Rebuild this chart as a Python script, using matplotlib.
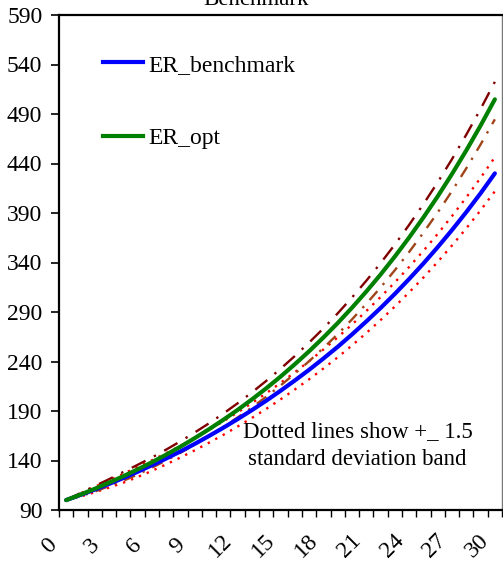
import matplotlib
matplotlib.use("Agg")
import matplotlib.pyplot as plt
from matplotlib.transforms import ScaledTranslation
from matplotlib.lines import Line2D

plt.rcParams['font.family'] = ['Liberation Serif', 'DejaVu Serif']

periods = list(range(31))
er_benchmark = [100, 105.2, 110.6, 116.3, 122.3, 128.6, 135.2, 142.0, 149.2, 156.8,
                164.8, 173.1, 181.8, 190.9, 200.4, 210.4, 220.8, 231.6, 243.0, 254.8,
                267.3, 280.4, 294.0, 308.3, 323.3, 339.0, 355.5, 372.8, 390.9, 409.9, 430.0]
er_opt = [100, 105.5, 111.4, 117.6, 124.1, 131.0, 138.2, 145.9, 154.0, 162.6,
          171.6, 181.1, 191.1, 201.7, 212.9, 224.7, 237.2, 250.3, 264.2, 278.8,
          294.3, 310.6, 327.8, 346.0, 365.2, 385.5, 406.8, 429.4, 453.2, 478.3, 504.8]
opt_upper = [100, 107.1, 114.2, 121.1, 128.4, 135.6, 143.0, 151.0, 159.4, 168.3,
             177.6, 187.4, 197.8, 208.8, 220.4, 232.6, 245.5, 259.1, 273.4, 288.6,
             304.6, 321.5, 339.3, 358.1, 378.0, 399.0, 421.0, 444.4, 469.1, 495.0, 522.5]
opt_lower = [100, 103.9, 108.6, 114.1, 119.5, 125.8, 132.7, 140.1, 147.8, 156.1,
             164.7, 173.9, 183.5, 193.6, 204.4, 215.7, 227.7, 240.3, 253.6, 267.6,
             282.5, 298.2, 314.7, 332.2, 350.6, 370.1, 390.5, 412.2, 435.1, 459.2, 484.6]
bench_upper = [100, 106.8, 113.4, 119.8, 126.6, 133.5, 140.2, 147.4, 154.8, 162.7,
               171.0, 179.6, 188.6, 198.0, 207.9, 218.3, 229.1, 240.3, 252.1, 264.4,
               277.3, 290.9, 305.1, 319.9, 335.5, 351.8, 368.9, 386.9, 405.7, 425.5, 446.3]
bench_lower = [100, 103.6, 107.9, 112.6, 117.6, 123.3, 129.5, 136.1, 143.0, 150.3,
               158.0, 165.9, 174.3, 183.0, 192.1, 201.7, 211.7, 222.0, 232.9, 244.2,
               256.2, 268.7, 281.8, 295.5, 309.8, 324.8, 340.6, 357.2, 374.5, 392.7, 411.9]
y_ticks = [90, 140, 190, 240, 290, 340, 390, 440, 490, 540, 590]
x_labels = [0, 3, 6, 9, 12, 15, 18, 21, 24, 27, 30]

fig = plt.figure(figsize=(5.03, 5.61), dpi=100)
ax = fig.add_axes([59/503, 1-510/561, 443/503, 495/561])

xs = [p + 0.5 for p in periods]
ax.plot(xs, bench_lower, color='#FF0000', lw=1.7, dashes=(1, 2.6))
ax.plot(xs, bench_upper, color='#FF0000', lw=1.7, dashes=(1, 2.6))
ax.plot(xs, opt_lower, color='#A0441A', lw=1.7, dashes=(5, 3.5, 1, 3.5))
ax.plot(xs, opt_upper, color='#800000', lw=1.7, dashes=(6.5, 4, 1, 4))
ax.plot(xs, er_benchmark, color='#0000FF', lw=3.0, solid_capstyle='round')
ax.plot(xs, er_opt, color='#008000', lw=3.0, solid_capstyle='round')

ax.set_xlim(0, 31)
ax.set_ylim(90, 590)
ax.set_yticks(y_ticks)
ax.set_yticklabels([str(v) for v in y_ticks])
ax.set_xticks(x_labels)
ax.set_xticklabels([str(v) for v in x_labels], rotation=45, ha='center', va='center',
                   rotation_mode='anchor')
ax.set_xticks(range(0, 32), minor=True)
ax.tick_params(axis='y', direction='out', length=6, width=1.2, pad=6, labelsize=17)
ax.tick_params(axis='x', which='both', direction='out', length=5, width=1.0, pad=21, labelsize=17)
off = ScaledTranslation(-0.10, 0, fig.dpi_scale_trans)
for lab in ax.get_xticklabels():
    lab.set_transform(lab.get_transform() + off)

ax.spines['left'].set_linewidth(1.6)
ax.spines['bottom'].set_linewidth(1.6)
ax.spines['top'].set_linewidth(1.6)
ax.spines['right'].set_linewidth(1.0)
ax.spines['right'].set_color('#777777')

handles = [Line2D([], [], color='#0000FF', lw=3.0), Line2D([], [], color='#008000', lw=3.0)]
ax.legend(handles, ['ER_benchmark', 'ER_opt'], loc='upper left',
          bbox_to_anchor=(0.10, 0.921), frameon=False, fontsize=17,
          handlelength=1.7, handletextpad=0.2, labelspacing=2.2, borderpad=0,
          borderaxespad=0)

ax.text(20.9, 155, 'Dotted lines show +_ 1.5\nstandard deviation band', ha='center', va='center',
        multialignment='center', fontsize=16.5, linespacing=1.45)

fig.text(0.51, 1 - 5/561, 'Benchmark', ha='center', va='baseline', fontsize=16.5)

fig.savefig('out.png', dpi=100)
